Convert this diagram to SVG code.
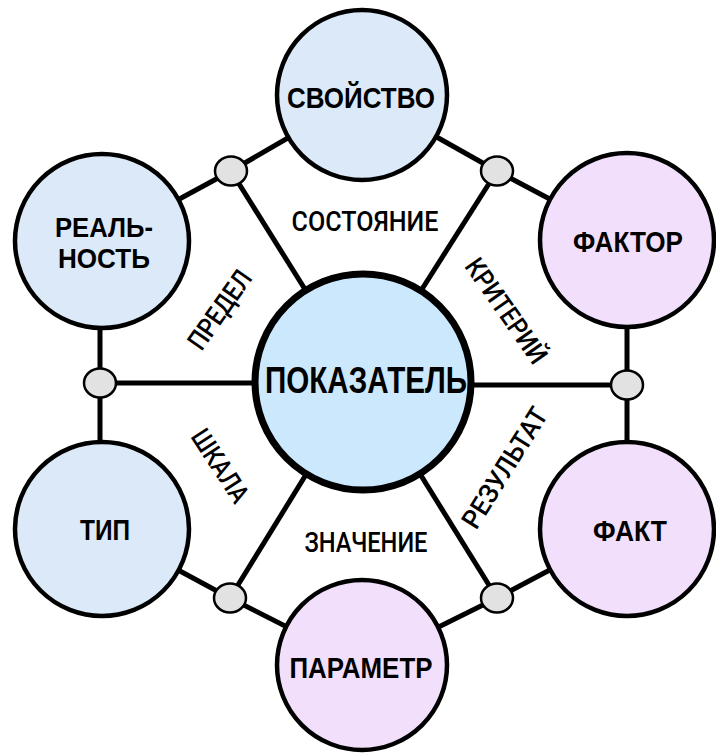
<svg xmlns="http://www.w3.org/2000/svg" width="716" height="755" viewBox="0 0 716 755">
<style>
.ln{stroke:#000;stroke-width:5;fill:none}
.blue{fill:#dbe9f8;stroke:#000;stroke-width:4.5}
.pink{fill:#f1dffb;stroke:#000;stroke-width:4.5}
.hub{fill:#cce8fd;stroke:#000;stroke-width:7}
.dot{fill:#e2e2e2;stroke:#000;stroke-width:2.5}
.nt{font-family:"Liberation Sans",Arial,sans-serif;font-weight:bold;font-size:30px;fill:#000;text-anchor:middle}
.lt{font-family:Roboto,"Liberation Sans",Arial,sans-serif;font-weight:500;font-size:27px;fill:#000;text-anchor:middle}
</style>
<rect width="716" height="755" fill="#fff"/>
<g id="connectors">
<line class="ln" x1="362" y1="95" x2="231" y2="171"/>
<line class="ln" x1="231" y1="171" x2="102" y2="241"/>
<line class="ln" x1="231" y1="171" x2="363" y2="382"/>
<line class="ln" x1="362" y1="95" x2="497" y2="171"/>
<line class="ln" x1="497" y1="171" x2="627" y2="240"/>
<line class="ln" x1="497" y1="171" x2="363" y2="382"/>
<line class="ln" x1="100" y1="241" x2="100" y2="529"/>
<line class="ln" x1="100" y1="383" x2="363" y2="383"/>
<line class="ln" x1="627" y1="240" x2="627" y2="529"/>
<line class="ln" x1="363" y1="385" x2="627" y2="385"/>
<line class="ln" x1="102" y1="529" x2="230" y2="598"/>
<line class="ln" x1="230" y1="598" x2="362" y2="665"/>
<line class="ln" x1="230" y1="598" x2="363" y2="382"/>
<line class="ln" x1="627" y1="529" x2="497" y2="598"/>
<line class="ln" x1="497" y1="598" x2="362" y2="665"/>
<line class="ln" x1="497" y1="598" x2="363" y2="382"/>
</g>
<g id="dots">
<ellipse class="dot" cx="231" cy="171" rx="16" ry="14.5"/>
<ellipse class="dot" cx="497" cy="171" rx="16" ry="14.5"/>
<ellipse class="dot" cx="100" cy="383" rx="16" ry="14.5"/>
<ellipse class="dot" cx="627" cy="385" rx="16" ry="14.5"/>
<ellipse class="dot" cx="230" cy="598" rx="16" ry="14.5"/>
<ellipse class="dot" cx="497" cy="598" rx="16" ry="14.5"/>
</g>
<g id="svoistvo"><circle class="blue" cx="362" cy="95" r="85"/><text class="nt" x="361" y="108" textLength="148" lengthAdjust="spacingAndGlyphs">СВОЙСТВО</text></g>
<g id="realnost"><circle class="blue" cx="102" cy="241" r="87"/><text class="nt" style="font-size:27px" x="104" y="237" textLength="98" lengthAdjust="spacingAndGlyphs">РЕАЛЬ-</text><text class="nt" style="font-size:27px" x="104" y="268" textLength="92" lengthAdjust="spacingAndGlyphs">НОСТЬ</text></g>
<g id="faktor"><circle class="pink" cx="627" cy="240" r="87"/><text class="nt" x="628" y="252" textLength="110" lengthAdjust="spacingAndGlyphs">ФАКТОР</text></g>
<g id="tip"><circle class="blue" cx="102" cy="529" r="87"/><text class="nt" x="105" y="540" textLength="50" lengthAdjust="spacingAndGlyphs">ТИП</text></g>
<g id="fakt"><circle class="pink" cx="627" cy="529" r="87"/><text class="nt" x="630" y="541" textLength="74" lengthAdjust="spacingAndGlyphs">ФАКТ</text></g>
<g id="parametr"><circle class="pink" cx="362" cy="665" r="85"/><text class="nt" x="361" y="678" textLength="143" lengthAdjust="spacingAndGlyphs">ПАРАМЕТР</text></g>
<g id="pokazatel"><circle class="hub" cx="363" cy="382" r="108"/><text class="nt" style="font-size:36px" x="366" y="393" textLength="202" lengthAdjust="spacingAndGlyphs">ПОКАЗАТЕЛЬ</text></g>
<g id="labels">
<text class="lt" x="365" y="231" textLength="147" lengthAdjust="spacingAndGlyphs">СОСТОЯНИЕ</text>
<text class="lt" x="366" y="552" textLength="123" lengthAdjust="spacingAndGlyphs">ЗНАЧЕНИЕ</text>
<text class="lt" transform="translate(220,310) rotate(-55)" x="0" y="9" textLength="90" lengthAdjust="spacingAndGlyphs">ПРЕДЕЛ</text>
<text class="lt" transform="translate(506,311) rotate(55)" x="0" y="9" textLength="122" lengthAdjust="spacingAndGlyphs">КРИТЕРИЙ</text>
<text class="lt" transform="translate(220,466) rotate(57)" x="0" y="9" textLength="82" lengthAdjust="spacingAndGlyphs">ШКАЛА</text>
<text class="lt" transform="translate(505,468) rotate(-58)" x="0" y="9" textLength="137" lengthAdjust="spacingAndGlyphs">РЕЗУЛЬТАТ</text>
</g>
</svg>
